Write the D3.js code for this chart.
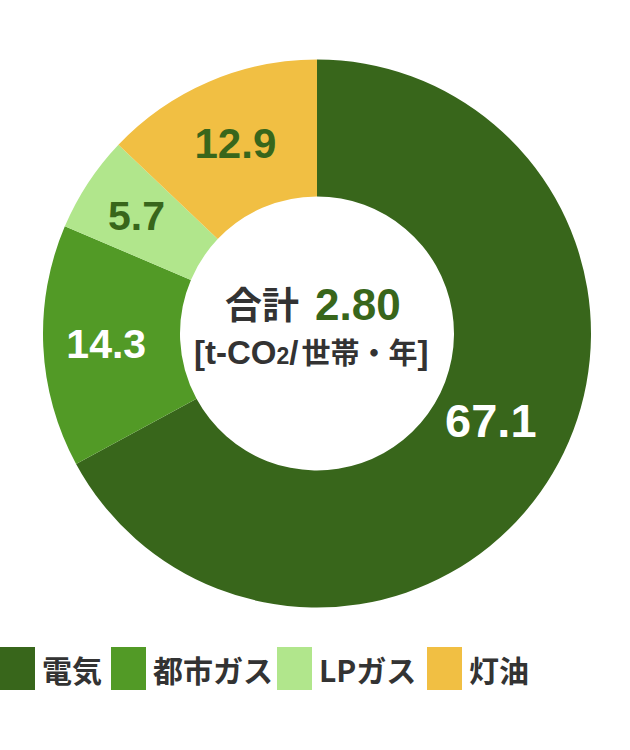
<!DOCTYPE html>
<html><head><meta charset="utf-8">
<script src="https://cdn.jsdelivr.net/npm/d3@7/dist/d3.min.js"></script>
<style>body{margin:0;background:#fff;}svg{display:block;}</style>
</head><body>
<svg id="c" width="630" height="750"></svg>
<script>
const categories = ["電気", "都市ガス", "LPガス", "灯油"];
const values = [67.1, 14.3, 5.7, 12.9];
const colors = ["#38661b", "#529a26", "#b1e68c", "#f1bf43"];
const labelColors = ["#ffffff", "#ffffff", "#38661b", "#38661b"];
const totalLabel = "合計";
const totalValue = "2.80";

const svg = d3.select("#c");
const cx = 317, cy = 333.5, R = 274, r0 = 137;
const g = svg.append("g").attr("transform", `translate(${cx},${cy})`);

const data = categories.map((c, i) => ({cat: c, value: values[i], i}));
const pie = d3.pie().value(d => d.value).sort(null);
const arcs = pie(data);
const arc = d3.arc().innerRadius(r0).outerRadius(R);

g.selectAll("path.slice").data(arcs).enter().append("path")
  .attr("class", "slice")
  .attr("d", arc)
  .attr("fill", d => colors[d.data.i]);

// label placement radii / angle tweaks (layout only)
const labelR = [194, 211, 216, 207];
const labelDA = [-0.077, 0, 0, 0];
const labelSize = [47, 41, 41, 42];
g.selectAll("text.val").data(arcs).enter().append("text")
  .attr("class", "val")
  .attr("x", d => { const a = (d.startAngle + d.endAngle) / 2 + labelDA[d.data.i]; return Math.sin(a) * labelR[d.data.i]; })
  .attr("y", d => { const a = (d.startAngle + d.endAngle) / 2 + labelDA[d.data.i]; return -Math.cos(a) * labelR[d.data.i]; })
  .attr("dy", "0.36em")
  .attr("text-anchor", "middle")
  .attr("font-family", "'Liberation Sans', Arial, sans-serif")
  .attr("font-weight", "bold")
  .attr("font-size", d => labelSize[d.data.i])
  .attr("fill", d => labelColors[d.data.i])
  .text(d => d.data.value.toFixed(1));

// center text
const t1 = svg.append("text").attr("x", 225).attr("y", 320)
  .attr("font-weight", "bold");
t1.append("tspan").attr("font-family", "'Noto Sans CJK JP', sans-serif")
  .attr("font-size", 37).attr("fill", "#333").attr("dy", "-1").text(totalLabel);
t1.append("tspan").attr("x", 315).attr("dy", "1").attr("font-family", "'Liberation Sans', Arial, sans-serif")
  .attr("font-size", 44).attr("fill", "#38661b").text(totalValue);

const t2 = svg.append("text").attr("x", 194).attr("y", 364)
  .attr("font-weight", "bold").attr("fill", "#333")
  .attr("font-family", "'Liberation Sans', 'Noto Sans CJK JP', sans-serif")
  .attr("font-size", 33);
t2.append("tspan").text("[t-CO");
t2.append("tspan").attr("font-size", 23).text("2");
t2.append("tspan").text("/");
t2.append("tspan").attr("font-family", "'Noto Sans CJK JP', sans-serif").attr("font-size", 29).attr("dx", 3).text("世帯・年");
t2.append("tspan").text("]");

// legend
const legX = [0, 111, 277, 427];
const leg = svg.append("g");
categories.forEach((c, i) => {
  leg.append("rect").attr("x", legX[i]).attr("y", 647).attr("width", 35).attr("height", 43).attr("fill", colors[i]);
  leg.append("text").attr("x", legX[i] + 42).attr("y", 682)
    .attr("font-family", "'Noto Sans CJK JP', sans-serif").attr("font-weight", "bold")
    .attr("font-size", 30).attr("fill", "#333").text(c);
});
</script>
</body></html>
